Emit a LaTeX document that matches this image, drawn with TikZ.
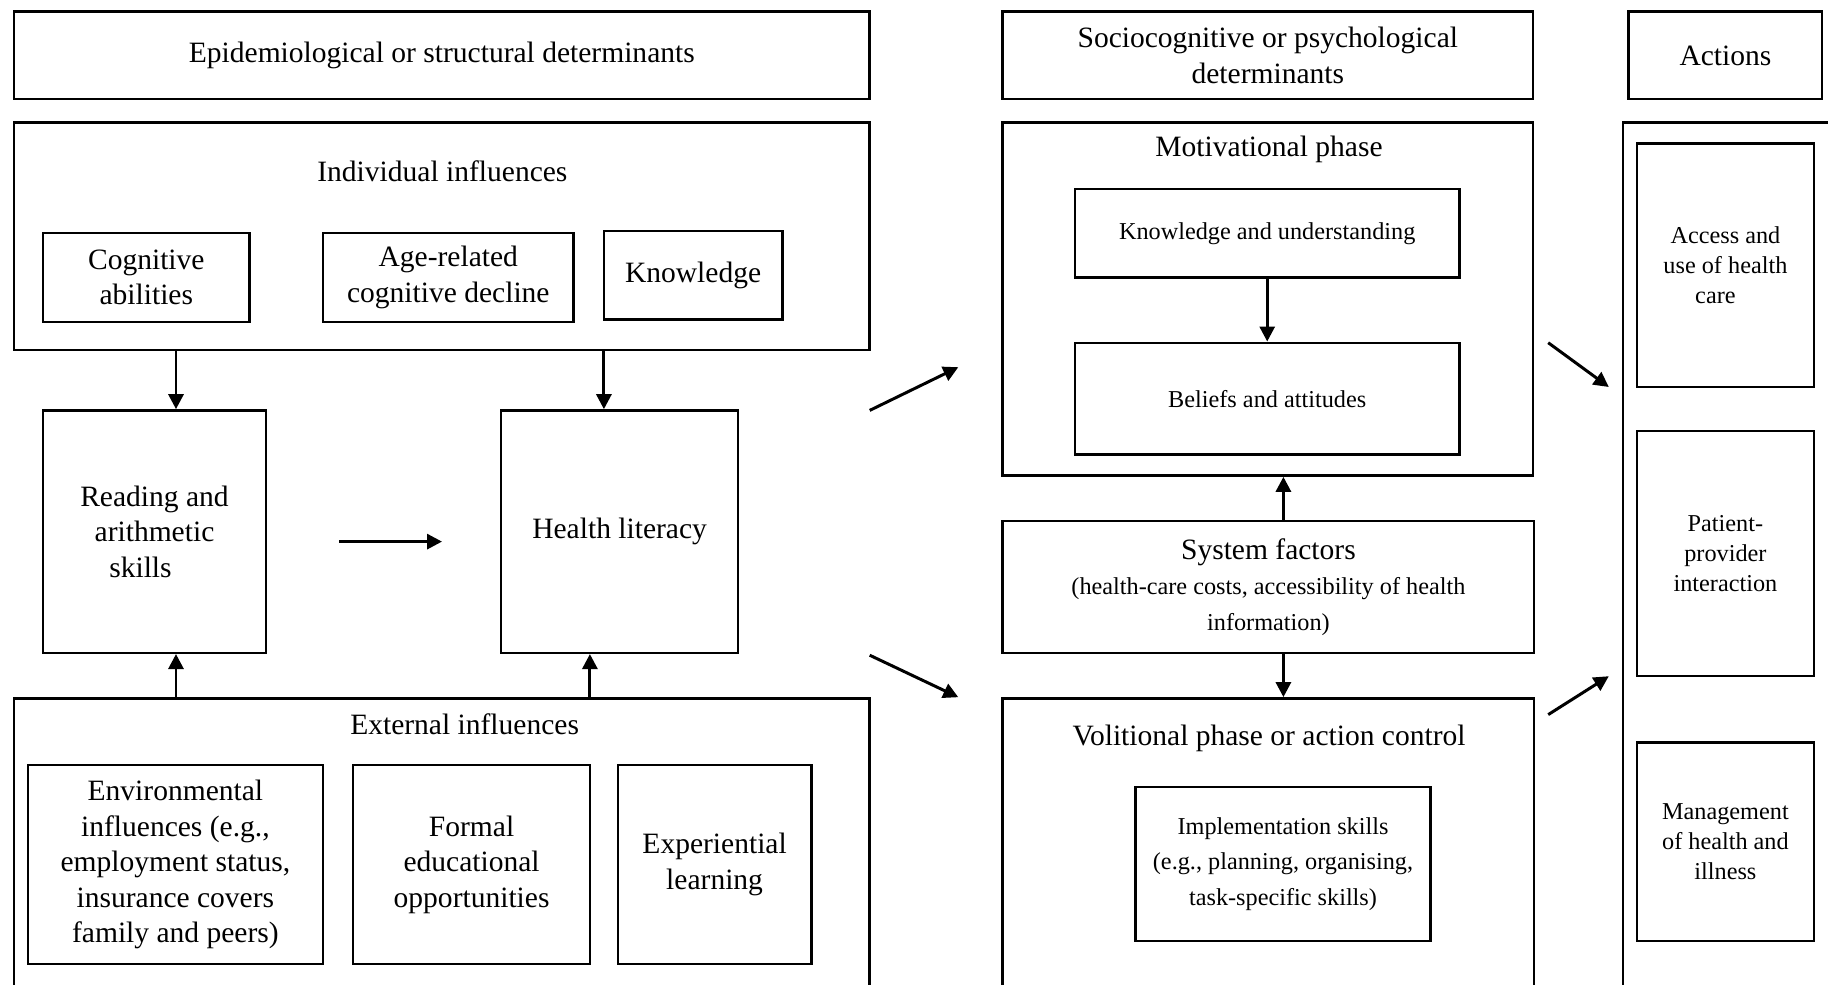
\documentclass[tikz,border=0pt]{standalone}
\usepackage{fontspec}
\setmainfont{Liberation Serif}
\usetikzlibrary{positioning,calc,arrows.meta}

\newcommand{\mainfs}{\fontsize{8.4}{10.1}\selectfont}
\newcommand{\smallfs}{\fontsize{6.9}{8.6}\selectfont}
\newcommand{\smallwide}{\fontsize{6.9}{10.1}\selectfont}

\tikzset{
  box/.style={draw, line width=0.7pt, align=center, inner sep=1pt, font=\mainfs},
  smallbox/.style={box, font=\smallfs},
  title/.style={font=\mainfs, inner sep=0pt},
  arr/.style={-{Triangle[length=1.5mm,width=1.5mm]}, line width=0.85pt},
}

\begin{document}
\begin{tikzpicture}
    \useasboundingbox (0,0) rectangle (18.28,-9.84);
    \clip (0,0) rectangle (18.28,-9.84);

    % Left column: epidemiological or structural determinants
    \node[box, minimum width=8.557cm, minimum height=0.874cm] (epi) at (4.418,-0.554) {Epidemiological or structural determinants};
    \node[box, minimum width=8.557cm, minimum height=2.273cm] (indiv) at (4.418,-2.361) {};
    \node[title] (indivt) at (4.424,-1.714) {Individual influences};
    \node[box, minimum width=2.064cm, minimum height=0.886cm] (cog) at (1.463,-2.775) {Cognitive\\abilities};
    \node[box, minimum width=2.507cm, minimum height=0.886cm] (age) at (4.483,-2.775) {Age-related\\cognitive decline};
    \node[box, minimum width=1.784cm, minimum height=0.886cm] (know) at (6.931,-2.751) {Knowledge};

    \node[box, minimum width=2.227cm, minimum height=2.424cm] (read) at (1.545,-5.316) {Reading and\\arithmetic\\skills\hspace*{0.28cm}};
    \node[box, minimum width=2.367cm, minimum height=2.424cm] (hl) at (6.196,-5.316) {Health literacy};

    \node[box, minimum width=8.557cm, minimum height=3.317cm] (ext) at (4.418,-8.642) {};
    \node[title] (extt) at (4.646,-7.240) {External influences};
    \node[box, minimum width=2.949cm, minimum height=1.993cm] (env) at (1.754,-8.645) {Environmental\\influences (e.g.,\\employment status,\\insurance covers\\family and peers)};
    \node[box, minimum width=2.367cm, minimum height=1.993cm] (formal) at (4.716,-8.645) {Formal\\educational\\opportunities};
    \node[box, minimum width=1.935cm, minimum height=1.993cm] (exper) at (7.146,-8.645) {Experiential\\learning};

    % Middle column: sociocognitive or psychological determinants
    \node[box, minimum width=5.304cm, minimum height=0.874cm] (socio) at (12.678,-0.554) {Sociocognitive or psychological\\determinants};
    \node[box, minimum width=5.304cm, minimum height=3.532cm] (motiv) at (12.678,-2.990) {};
    \node[title] (motivt) at (12.690,-1.492) {Motivational phase};
    \node[smallbox, minimum width=3.847cm, minimum height=0.886cm] (ku) at (12.672,-2.332) {Knowledge and understanding};
    \node[smallbox, minimum width=3.847cm, minimum height=1.119cm] (ba) at (12.672,-3.987) {Beliefs and attitudes};

    \node[box, minimum width=5.316cm, minimum height=1.317cm] (sys) at (12.684,-5.870) {System factors\\{\smallfs (health-care costs, accessibility of health}\\{\smallfs information)}};

    \node[box, minimum width=5.316cm, minimum height=3.317cm] (vol) at (12.684,-8.642) {};
    \node[title] (volt) at (12.690,-7.380) {Volitional phase or action control};
    \node[smallbox, font=\smallwide, minimum width=2.949cm, minimum height=1.539cm] (impl) at (12.830,-8.639) {Implementation skills\\(e.g., planning, organising,\\task-specific skills)};

    % Right column: actions
    \node[box, minimum width=1.936cm, minimum height=0.874cm] (acth) at (17.254,-0.554) {Actions};
    \node[box, minimum width=2.372cm, minimum height=9.076cm] (act) at (17.414,-5.762) {};
    \node[smallbox, minimum width=1.772cm, minimum height=2.436cm] (acc) at (17.254,-2.652) {Access and\\use of health\\care\hspace*{0.2cm}};
    \node[smallbox, minimum width=1.772cm, minimum height=2.449cm] (pat) at (17.254,-5.537) {Patient-\\provider\\interaction};
    \node[smallbox, minimum width=1.772cm, minimum height=1.982cm] (mgmt) at (17.254,-8.417) {Management\\of health and\\illness};

    % Vertical arrows
    \coordinate (rdtop) at ([xshift=2.15mm]read.north);
    \coordinate (rdbot) at ([xshift=2.15mm]read.south);
    \coordinate (hltop) at ([xshift=-1.57mm]hl.north);
    \coordinate (hlbot) at ([xshift=-2.97mm]hl.south);
    \draw[arr] (rdtop |- indiv.south) -- (rdtop);
    \draw[arr] (hltop |- indiv.south) -- (hltop);
    \draw[arr] (rdbot |- ext.north) -- (rdbot);
    \draw[arr] (hlbot |- ext.north) -- (hlbot);
    \draw[arr, shorten <=7.2mm, shorten >=5.8mm] ([yshift=-1mm]read.east) -- ([yshift=-1mm]hl.west);

    \draw[arr] (ku) -- (ba);
    \coordinate (systop) at ([xshift=1.5mm]sys.north);
    \coordinate (sysbot) at ([xshift=1.5mm]sys.south);
    \draw[arr] (systop) -- (systop |- motiv.south);
    \draw[arr] (sysbot) -- (sysbot |- vol.north);

    % Diagonal arrows
    \coordinate (d1s) at (8.697,-4.104);
    \coordinate (d1e) at (9.583,-3.672);
    \coordinate (d2s) at (8.697,-6.552);
    \coordinate (d2e) at (9.583,-6.972);
    \coordinate (d3s) at (15.482,-3.427);
    \coordinate (d3e) at (16.088,-3.870);
    \coordinate (d4s) at (15.482,-7.146);
    \coordinate (d4e) at (16.088,-6.762);
    \draw[arr] (d1s) -- (d1e);
    \draw[arr] (d2s) -- (d2e);
    \draw[arr] (d3s) -- (d3e);
    \draw[arr] (d4s) -- (d4e);
\end{tikzpicture}
\end{document}
